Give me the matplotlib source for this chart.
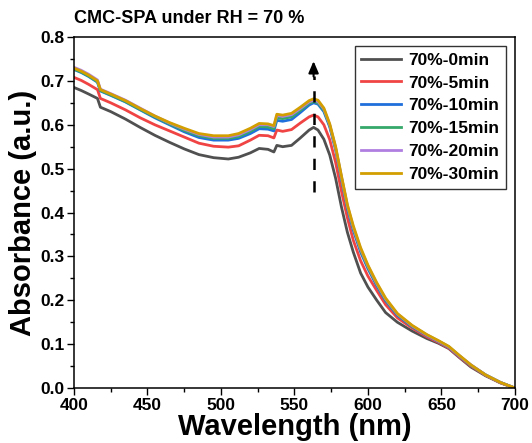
import numpy as np
import matplotlib
matplotlib.use("Agg")
import matplotlib.pyplot as plt
from matplotlib.ticker import MultipleLocator

plt.rcParams['font.family'] = ['Liberation Sans', 'DejaVu Sans']
plt.rcParams['font.weight'] = 'bold'

# wavelength grid (nm)
wl = [400, 405, 410, 416, 418, 425, 435, 445, 455, 465, 475, 485, 495, 505, 512,
      520, 526, 532, 536, 538, 542, 548, 554, 560, 563, 566, 570, 574, 578, 582,
      586, 590, 595, 600, 606, 612, 620, 630, 640, 648, 655, 662, 670, 680, 690, 700]

abs_0 = [0.685, 0.678, 0.670, 0.660, 0.640, 0.630, 0.613, 0.594, 0.576, 0.560, 0.545,
         0.532, 0.525, 0.522, 0.526, 0.536, 0.546, 0.544, 0.538, 0.553, 0.550, 0.553,
         0.570, 0.588, 0.594, 0.588, 0.567, 0.531, 0.478, 0.412, 0.355, 0.310, 0.262,
         0.230, 0.200, 0.172, 0.150, 0.130, 0.113, 0.102, 0.090, 0.070, 0.048, 0.028,
         0.012, 0.0]
abs_5 = [0.708, 0.701, 0.692, 0.680, 0.660, 0.650, 0.634, 0.616, 0.600, 0.586, 0.572,
         0.558, 0.551, 0.549, 0.552, 0.565, 0.576, 0.575, 0.570, 0.588, 0.585, 0.589,
         0.604, 0.618, 0.622, 0.618, 0.600, 0.566, 0.514, 0.448, 0.388, 0.337, 0.290,
         0.255, 0.222, 0.190, 0.160, 0.137, 0.117, 0.104, 0.091, 0.071, 0.050, 0.029,
         0.012, 0.0]
abs_10 = [0.726, 0.719, 0.710, 0.697, 0.677, 0.667, 0.652, 0.634, 0.616, 0.600, 0.584,
          0.571, 0.565, 0.565, 0.569, 0.580, 0.591, 0.590, 0.586, 0.610, 0.608, 0.612,
          0.628, 0.645, 0.650, 0.647, 0.630, 0.595, 0.543, 0.476, 0.410, 0.360, 0.310,
          0.272, 0.233, 0.199, 0.166, 0.140, 0.120, 0.106, 0.093, 0.073, 0.052, 0.030,
          0.013, 0.0]
abs_15 = [0.727, 0.720, 0.711, 0.698, 0.678, 0.668, 0.653, 0.635, 0.618, 0.602, 0.587,
          0.575, 0.569, 0.569, 0.573, 0.585, 0.596, 0.595, 0.591, 0.616, 0.614, 0.618,
          0.633, 0.649, 0.653, 0.650, 0.633, 0.598, 0.546, 0.479, 0.413, 0.364, 0.314,
          0.275, 0.236, 0.201, 0.168, 0.141, 0.121, 0.107, 0.094, 0.074, 0.052, 0.030,
          0.013, 0.0]
abs_20 = [0.731, 0.724, 0.715, 0.702, 0.681, 0.671, 0.656, 0.638, 0.620, 0.604, 0.590,
          0.578, 0.572, 0.572, 0.577, 0.589, 0.600, 0.600, 0.596, 0.621, 0.619, 0.623,
          0.637, 0.652, 0.656, 0.653, 0.636, 0.600, 0.548, 0.481, 0.416, 0.367, 0.317,
          0.278, 0.238, 0.203, 0.169, 0.142, 0.121, 0.107, 0.094, 0.074, 0.053, 0.030,
          0.013, 0.0]
abs_30 = [0.729, 0.722, 0.713, 0.700, 0.680, 0.670, 0.655, 0.637, 0.620, 0.605, 0.592,
          0.580, 0.575, 0.575, 0.580, 0.592, 0.603, 0.602, 0.598, 0.624, 0.622, 0.626,
          0.640, 0.655, 0.659, 0.656, 0.638, 0.602, 0.550, 0.483, 0.418, 0.370, 0.320,
          0.280, 0.240, 0.205, 0.170, 0.143, 0.122, 0.108, 0.095, 0.075, 0.053, 0.030,
          0.013, 0.0]

series = [abs_0, abs_5, abs_10, abs_15, abs_20, abs_30]
labels = ['70%-0min', '70%-5min', '70%-10min', '70%-15min', '70%-20min', '70%-30min']
colors = ['#505050', '#f04444', '#1f6fdc', '#35a86a', '#b07ee0', '#d29e00']

fig = plt.figure(figsize=(5.32, 4.43), dpi=100)
ax = fig.add_axes([0.139, 0.124, 0.829, 0.7925])

for y, lab, c in zip(series, labels, colors):
    ax.plot(wl, y, color=c, lw=2.0, label=lab)

# dashed arrow at the peak
ax.plot([563, 563], [0.447, 0.712], color='k', lw=1.8, linestyle=(0, (4.5, 4.5)))
ax.annotate('', xy=(563, 0.745), xytext=(563, 0.71),
            arrowprops=dict(arrowstyle='-|>,head_length=0.7,head_width=0.3',
                            color='k', lw=1.5, shrinkA=0, shrinkB=0))

ax.set_xlim(400, 700)
ax.set_ylim(0, 0.8)
ax.xaxis.set_major_locator(MultipleLocator(50))
ax.xaxis.set_minor_locator(MultipleLocator(25))
ax.yaxis.set_major_locator(MultipleLocator(0.1))
ax.yaxis.set_minor_locator(MultipleLocator(0.05))
ax.yaxis.set_major_formatter(matplotlib.ticker.FormatStrFormatter('%.1f'))
ax.tick_params(which='both', direction='out', top=False, right=False, width=1)
ax.tick_params(which='major', length=5, labelsize=12.5, pad=2)
ax.tick_params(which='minor', length=3)
for lbl in ax.get_xticklabels() + ax.get_yticklabels():
    lbl.set_fontweight('bold')
for s in ax.spines.values():
    s.set_linewidth(1.1)

ax.set_xlabel('Wavelength (nm)', fontsize=21, fontweight='bold', labelpad=0)
ax.set_ylabel('Absorbance (a.u.)', fontsize=21, fontweight='bold', labelpad=2)
ax.set_title('CMC-SPA under RH = 70 %', fontsize=13, fontweight='bold', loc='left', pad=10)

leg = ax.legend(loc='upper right', fontsize=12.5, frameon=True, fancybox=False,
                edgecolor='k', borderaxespad=0.5, handlelength=2.3, labelspacing=0.44,
                handletextpad=0.4, borderpad=0.4)
leg.get_frame().set_linewidth(1.0)
for t in leg.get_texts():
    t.set_fontweight('bold')

fig.savefig('out.png', dpi=100)
